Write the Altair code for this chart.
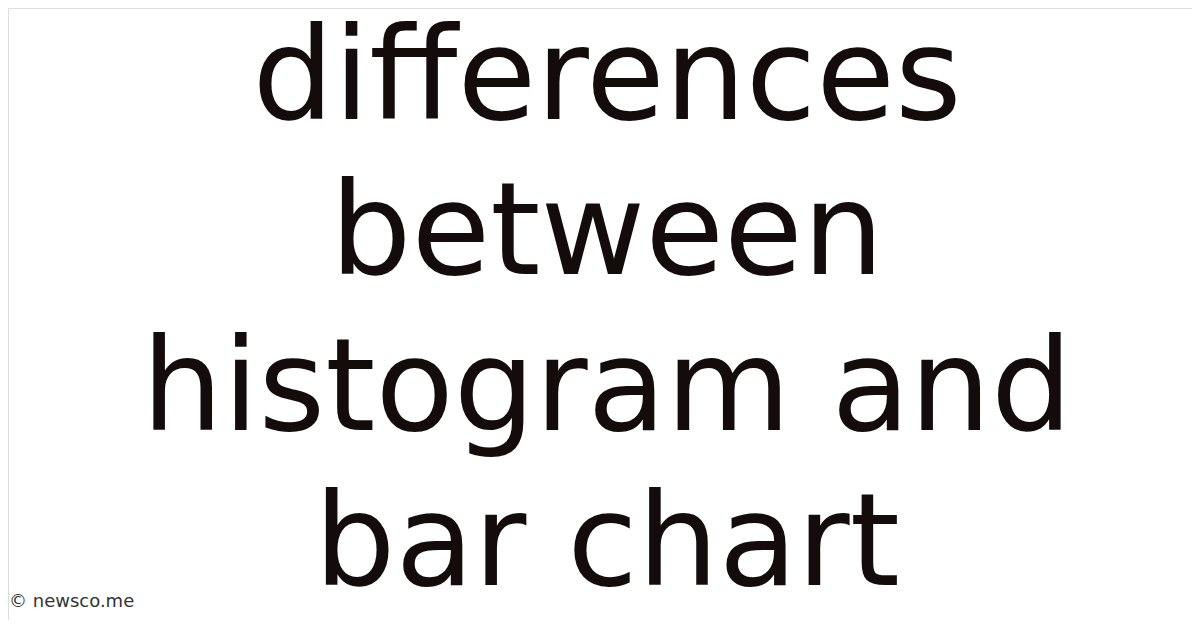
import altair as alt
import pandas as pd

lines = ["differences", "between", "histogram and", "bar chart"]
line_index = [0, 1, 2, 3]
footer = ["© newsco.me"]

df = pd.DataFrame({"text": lines, "idx": line_index})
foot = pd.DataFrame({"text": footer})

main = alt.Chart(df).mark_text(
    font="DejaVu Sans", fontSize=128, color="#140b0b",
    align="center", baseline="alphabetic"
).encode(
    x=alt.value(599),
    y=alt.Y("idx:Q", scale=alt.Scale(domain=[0, 3], range=[111, 577]), axis=None),
    text="text:N",
)

credit = alt.Chart(foot).mark_text(
    font="DejaVu Sans", fontSize=18, color="#333333",
    align="left", baseline="alphabetic"
).encode(
    x=alt.value(1),
    y=alt.value(599),
    text="text:N",
)

chart = alt.layer(main, credit).properties(
    width=1184, height=612, padding=0,
    autosize=alt.AutoSizeParams(type="none"),
).configure_view(strokeWidth=0, stroke="transparent").configure(background="white")

chart.save("out.html", embed_options={"renderer": "svg", "actions": False})
